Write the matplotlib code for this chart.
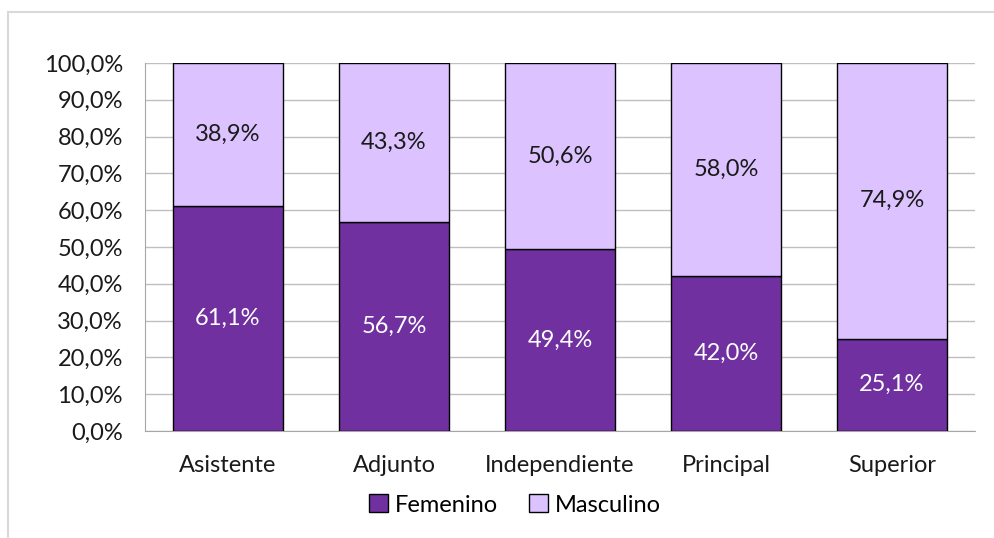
import matplotlib.pyplot as plt
import matplotlib.patches as mpatches
import numpy as np

categories = ['Asistente', 'Adjunto', 'Independiente', 'Principal', 'Superior']
femenino = [61.1, 56.7, 49.4, 42.0, 25.1]
masculino = [38.9, 43.3, 50.6, 58.0, 74.9]

DARK = '#7030A0'
LIGHT = '#DCC3FF'

plt.rcParams['font.family'] = ['Lato', 'DejaVu Sans']
FS = 17

fig = plt.figure(figsize=(9.95, 5.38), dpi=100)
# outer chart frame
fig.patches.append(mpatches.Rectangle((8 / 995, -0.05), 1.0, (538 - 12) / 538 + 0.05,
                                      transform=fig.transFigure, fill=False,
                                      edgecolor='#D9D9D9', linewidth=1.5))

ax = fig.add_axes([145 / 995, (538 - 431) / 538, (975 - 145) / 995, (431 - 63) / 538])

x = np.arange(len(categories))
w = 0.66
ax.bar(x, femenino, width=w, color=DARK, edgecolor='black', linewidth=1, zorder=3, label='Femenino')
ax.bar(x, masculino, width=w, bottom=femenino, color=LIGHT, edgecolor='black', linewidth=1,
       zorder=3, label='Masculino')

fmt = lambda v: f'{v:.1f}%'.replace('.', ',')
for i in range(len(categories)):
    ax.text(x[i], femenino[i] / 2, fmt(femenino[i]), ha='center', va='center',
            color='white', fontsize=FS, zorder=4)
    ax.text(x[i], femenino[i] + masculino[i] / 2, fmt(masculino[i]), ha='center', va='center',
            color='#1a1a1a', fontsize=FS, zorder=4)

ax.set_xlim(-0.5, len(categories) - 0.5)
ax.set_ylim(0, 100)
ax.set_yticks(np.arange(0, 101, 10))
ax.set_yticklabels([fmt(v) for v in np.arange(0, 101, 10)])
ax.set_xticks(x)
ax.set_xticklabels(categories)
ax.tick_params(axis='both', length=0, labelsize=FS, colors='#1a1a1a')
ax.tick_params(axis='x', pad=17)
ax.tick_params(axis='y', pad=16)
ax.grid(axis='y', color='#BFBFBF', linewidth=1, zorder=0)
for s in ['top', 'right']:
    ax.spines[s].set_visible(False)
ax.spines['left'].set_color('#A6A6A6')
ax.spines['bottom'].set_color('#A6A6A6')

fig.legend(loc='center', bbox_to_anchor=(515 / 995, 1 - 505 / 538), ncol=2, frameon=False,
           fontsize=FS, handlelength=0.8, handleheight=0.8, handletextpad=0.3, columnspacing=1.3)

fig.savefig('out.png', dpi=100)
